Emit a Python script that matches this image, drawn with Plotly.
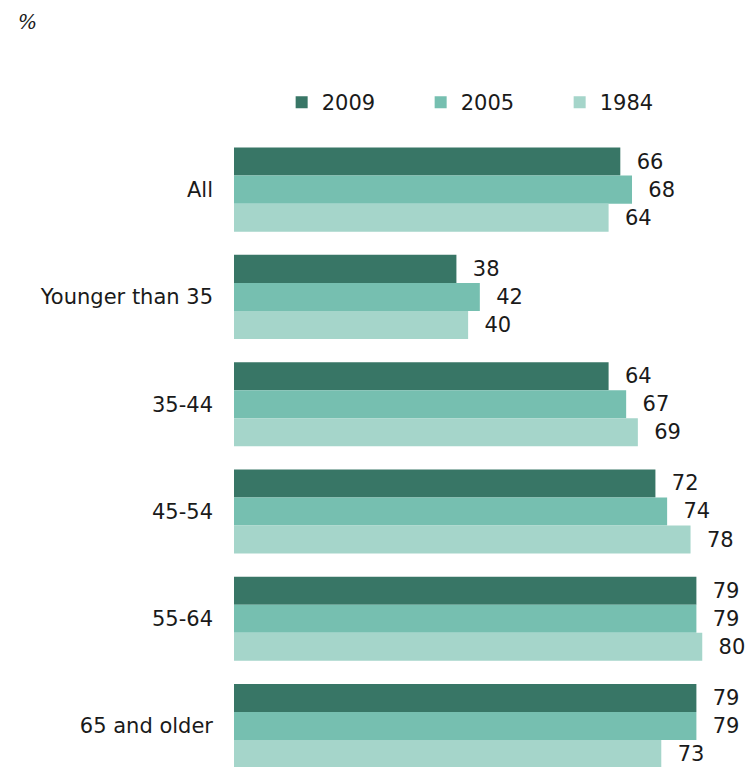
import plotly.graph_objects as go

categories = ["All", "Younger than 35", "35-44", "45-54", "55-64", "65 and older"]
years = ["2009", "2005", "1984"]
values_2009 = [66, 38, 64, 72, 79, 79]
values_2005 = [68, 42, 67, 74, 79, 79]
values_1984 = [64, 40, 69, 78, 80, 73]
colors = ["#387666", "#76bfb0", "#a5d5ca"]

series = [values_2009, values_2005, values_1984]
FONT = "DejaVu Sans, Verdana, sans-serif"
TXT = "#1a1a1a"
FS = 21

fig = go.Figure()
for name, vals, col in zip(years, series, colors):
    fig.add_trace(go.Bar(
        y=categories, x=vals, name=name, orientation="h",
        marker=dict(color=col, line=dict(width=0)),
        text=[str(v) for v in vals], textposition="outside",
        texttemplate="  %{text}",
        textfont=dict(family=FONT, size=FS, color=TXT),
        cliponaxis=False,
    ))

fig.update_layout(
    width=752, height=767,
    margin=dict(l=234, r=0, t=136, b=0),
    barmode="group", bargap=0.216, bargroupgap=0,
    plot_bgcolor="white", paper_bgcolor="white",
    font=dict(family=FONT, size=FS, color=TXT),
    showlegend=True,
    legend=dict(orientation="h", x=0.092, xanchor="left", y=1.053, yanchor="middle",
                entrywidth=94, entrywidthmode="pixels", traceorder="normal",
                font=dict(family=FONT, size=FS, color=TXT)),
    xaxis=dict(range=[0, 88.5], visible=False, showgrid=False, zeroline=False),
    yaxis=dict(range=[5.382, -0.5], type="category", showgrid=False, zeroline=False,
               showline=False, ticks="", ticklabelstandoff=20,
               tickfont=dict(family=FONT, size=FS, color=TXT)),
    annotations=[dict(text="<i>%</i>", xref="paper", yref="paper", showarrow=False,
                      x=(16 - 234) / 518, y=(767 - 22) / 631,
                      xanchor="left", yanchor="middle",
                      font=dict(family="DejaVu Serif, serif", size=20, color=TXT))],
)

fig.write_html("out.html")
